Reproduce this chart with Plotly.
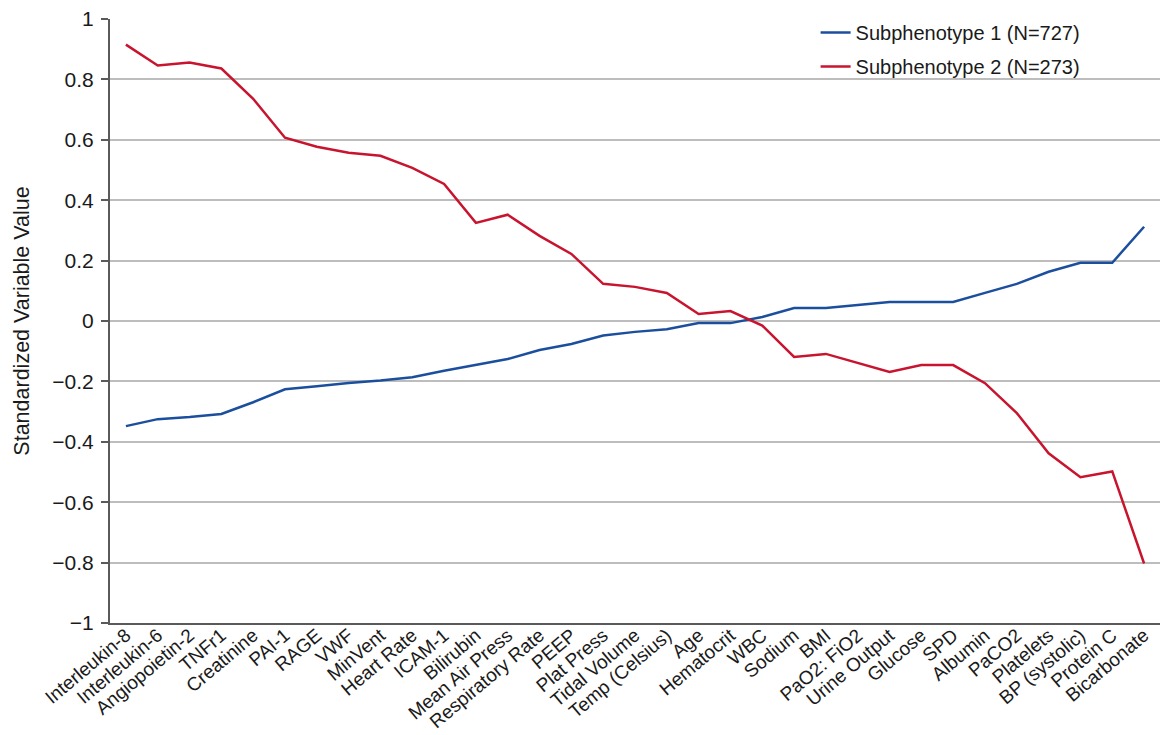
import plotly.graph_objects as go

categories = ["Interleukin-8", "Interleukin-6", "Angiopoietin-2", "TNFr1", "Creatinine",
              "PAI-1", "RAGE", "VWF", "MinVent", "Heart Rate", "ICAM-1", "Bilirubin",
              "Mean Air Press", "Respiratory Rate", "PEEP", "Plat Press", "Tidal Volume",
              "Temp (Celsius)", "Age", "Hematocrit", "WBC", "Sodium", "BMI", "PaO2: FiO2",
              "Urine Output", "Glucose", "SPD", "Albumin", "PaCO2", "Platelets",
              "BP (systolic)", "Protein C", "Bicarbonate"]

subphenotype1 = [-0.348, -0.325, -0.318, -0.308, -0.269, -0.226, -0.216, -0.205, -0.197,
                 -0.186, -0.165, -0.146, -0.126, -0.096, -0.076, -0.048, -0.036, -0.027,
                 -0.007, -0.007, 0.013, 0.043, 0.043, 0.053, 0.063, 0.063, 0.063, 0.093,
                 0.123, 0.163, 0.193, 0.193, 0.312]

subphenotype2 = [0.915, 0.846, 0.856, 0.836, 0.736, 0.607, 0.577, 0.557, 0.547, 0.507,
                 0.454, 0.325, 0.352, 0.282, 0.222, 0.123, 0.113, 0.093, 0.023, 0.033,
                 -0.015, -0.119, -0.109, -0.139, -0.169, -0.146, -0.146, -0.206, -0.305,
                 -0.438, -0.517, -0.498, -0.803]

series_names = ["Subphenotype 1 (N=727)", "Subphenotype 2 (N=273)"]
colors = ["#1b4f9e", "#c8142e"]

y_ticks = [1, 0.8, 0.6, 0.4, 0.2, 0, -0.2, -0.4, -0.6, -0.8, -1]
y_tick_text = ["1", "0.8", "0.6", "0.4", "0.2", "0", "\u22120.2", "\u22120.4", "\u22120.6", "\u22120.8", "\u22121"]

FONT = "Liberation Sans, Arial, Helvetica, sans-serif"

fig = go.Figure()
for name, vals, col, grp in zip(series_names, [subphenotype1, subphenotype2], colors, ["a", "b"]):
    fig.add_trace(go.Scatter(x=categories, y=vals, mode="lines", name=name,
                             legendgroup=grp,
                             line=dict(color=col, width=2.5)))

fig.update_layout(
    width=1163, height=735,
    margin=dict(l=110, r=3, t=19, b=112),
    paper_bgcolor="white", plot_bgcolor="white",
    font=dict(family=FONT, color="#1a1a1a"),
    showlegend=True,
    legend=dict(x=0.672, y=1.01, xanchor="left", yanchor="top",
                bgcolor="rgba(0,0,0,0)", borderwidth=0,
                font=dict(size=20, family=FONT, color="#1a1a1a"),
                traceorder="grouped", tracegroupgap=5),
)

fig.update_xaxes(
    type="category", range=[-0.5, len(categories) - 0.5],
    tickangle=-40, tickfont=dict(size=19, family=FONT, color="#1a1a1a"),
    showgrid=False, showline=True, linecolor="#5a5a5a", linewidth=2,
    ticks="", automargin=False, ticklabelstandoff=-8,
)

fig.update_yaxes(
    range=[-1, 1], tickvals=y_ticks, ticktext=y_tick_text,
    tickfont=dict(size=21, family=FONT, color="#1a1a1a"),
    showgrid=True, gridcolor="#bdbdbd", gridwidth=1.5,
    zeroline=False,
    showline=True, linecolor="#5a5a5a", linewidth=2,
    ticks="outside", ticklen=7, tickcolor="#5a5a5a", tickwidth=1.5,
    ticklabelstandoff=3,
    title=dict(text="Standardized Variable Value", font=dict(size=21.5, family=FONT, color="#1a1a1a"),
               standoff=17),
    automargin=False,
)

fig.write_html("out.html")
